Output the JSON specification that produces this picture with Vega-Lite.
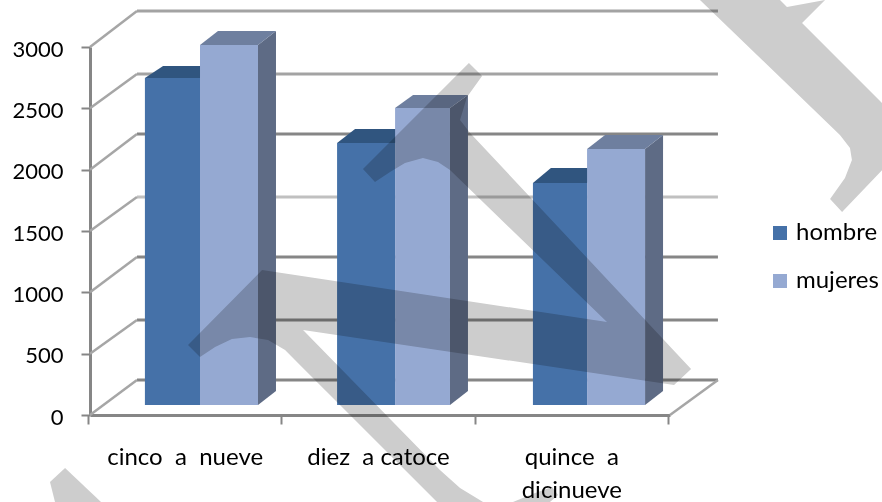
{"$schema":"https://vega.github.io/schema/vega-lite/v6.json","width":580,"height":368,"autosize":"none","padding":{"left":90,"top":47,"right":212,"bottom":87},"background":"white","config":{"view":{"stroke":null}},
"datasets":{
"barras":[{"grupo":"cinco a nueve","serie":"hombre","x0":0.284,"x1":0.569,"valor":2666},{"grupo":"cinco a nueve","serie":"mujeres","x0":0.569,"x1":0.869,"valor":2935},{"grupo":"diez a catoce","serie":"hombre","x0":1.278,"x1":1.578,"valor":2136},{"grupo":"diez a catoce","serie":"mujeres","x0":1.578,"x1":1.862,"valor":2421},{"grupo":"quince a dicinueve","serie":"hombre","x0":2.291,"x1":2.571,"valor":1810},{"grupo":"quince a dicinueve","serie":"mujeres","x0":2.571,"x1":2.871,"valor":2087}],
"lineas":[{"tono":"medio","x":0.243,"x2":3.248,"y":3293,"y2":3293},{"tono":"medio","x":0.243,"x2":3.248,"y":2780,"y2":2780},{"tono":"oscuro","x":0.243,"x2":3.248,"y":2291,"y2":2291},{"tono":"claro","x":0.243,"x2":3.248,"y":1777,"y2":1777},{"tono":"oscuro","x":0.243,"x2":3.248,"y":1288,"y2":1288},{"tono":"oscuro","x":0.243,"x2":3.248,"y":774,"y2":774},{"tono":"oscuro","x":0.243,"x2":3.248,"y":285,"y2":285},
{"tono":"oblicua","x":0,"x2":0.243,"y":3000,"y2":3293},{"tono":"oblicua","x":0,"x2":0.243,"y":2500,"y2":2780},{"tono":"oblicua","x":0,"x2":0.243,"y":2000,"y2":2291},{"tono":"oblicua","x":0,"x2":0.243,"y":1500,"y2":1777},{"tono":"oblicua","x":0,"x2":0.243,"y":1000,"y2":1288},{"tono":"oblicua","x":0,"x2":0.243,"y":500,"y2":774},{"tono":"oblicua","x":0,"x2":0.243,"y":0,"y2":285},{"tono":"oblicua","x":3,"x2":3.248,"y":0,"y2":285}],
"caras":[
{"cara":"h1t","tipo":"hsup","n":1,"x":0.284,"y":2747},{"cara":"h1t","tipo":"hsup","n":2,"x":0.569,"y":2747},{"cara":"h1t","tipo":"hsup","n":3,"x":0.662,"y":2845},{"cara":"h1t","tipo":"hsup","n":4,"x":0.378,"y":2845},
{"cara":"h2t","tipo":"hsup","n":1,"x":1.278,"y":2217},{"cara":"h2t","tipo":"hsup","n":2,"x":1.578,"y":2217},{"cara":"h2t","tipo":"hsup","n":3,"x":1.671,"y":2332},{"cara":"h2t","tipo":"hsup","n":4,"x":1.371,"y":2332},
{"cara":"h3t","tipo":"hsup","n":1,"x":2.291,"y":1891},{"cara":"h3t","tipo":"hsup","n":2,"x":2.571,"y":1891},{"cara":"h3t","tipo":"hsup","n":3,"x":2.664,"y":2014},{"cara":"h3t","tipo":"hsup","n":4,"x":2.384,"y":2014},
{"cara":"m1s","tipo":"mlat","n":1,"x":0.869,"y":82},{"cara":"m1s","tipo":"mlat","n":2,"x":0.962,"y":196},{"cara":"m1s","tipo":"mlat","n":3,"x":0.962,"y":3130},{"cara":"m1s","tipo":"mlat","n":4,"x":0.869,"y":3016},
{"cara":"m2s","tipo":"mlat","n":1,"x":1.862,"y":82},{"cara":"m2s","tipo":"mlat","n":2,"x":1.955,"y":196},{"cara":"m2s","tipo":"mlat","n":3,"x":1.955,"y":2609},{"cara":"m2s","tipo":"mlat","n":4,"x":1.862,"y":2503},
{"cara":"m3s","tipo":"mlat","n":1,"x":2.871,"y":82},{"cara":"m3s","tipo":"mlat","n":2,"x":2.964,"y":196},{"cara":"m3s","tipo":"mlat","n":3,"x":2.964,"y":2283},{"cara":"m3s","tipo":"mlat","n":4,"x":2.871,"y":2168},
{"cara":"m1t","tipo":"msup","n":1,"x":0.569,"y":3016},{"cara":"m1t","tipo":"msup","n":2,"x":0.869,"y":3016},{"cara":"m1t","tipo":"msup","n":3,"x":0.962,"y":3130},{"cara":"m1t","tipo":"msup","n":4,"x":0.662,"y":3130},
{"cara":"m2t","tipo":"msup","n":1,"x":1.578,"y":2503},{"cara":"m2t","tipo":"msup","n":2,"x":1.862,"y":2503},{"cara":"m2t","tipo":"msup","n":3,"x":1.955,"y":2609},{"cara":"m2t","tipo":"msup","n":4,"x":1.671,"y":2609},
{"cara":"m3t","tipo":"msup","n":1,"x":2.571,"y":2168},{"cara":"m3t","tipo":"msup","n":2,"x":2.871,"y":2168},{"cara":"m3t","tipo":"msup","n":3,"x":2.964,"y":2283},{"cara":"m3t","tipo":"msup","n":4,"x":2.664,"y":2283}],
"marca":[
{"p":"a","n":1,"x":3.155,"y":3383},{"p":"a","n":2,"x":3.569,"y":3383},{"p":"a","n":3,"x":3.605,"y":3326},{"p":"a","n":4,"x":3.802,"y":3383},{"p":"a","n":5,"x":3.683,"y":3196},{"p":"a","n":6,"x":4.097,"y":2543},{"p":"a","n":7,"x":4.097,"y":1997},{"p":"a","n":8,"x":3.89,"y":1655},{"p":"a","n":9,"x":3.828,"y":1761},{"p":"a","n":10,"x":3.905,"y":1932},{"p":"a","n":11,"x":3.941,"y":2079},{"p":"a","n":12,"x":3.931,"y":2177},{"p":"a","n":13,"x":3.879,"y":2283},
{"p":"b","n":1,"x":-0.129,"y":-432},{"p":"b","n":2,"x":-0.207,"y":-546},{"p":"b","n":3,"x":-0.181,"y":-709},{"p":"b","n":4,"x":0.057,"y":-709},
{"p":"c","n":1,"x":2.188,"y":-709},{"p":"c","n":2,"x":2.302,"y":-636},{"p":"c","n":3,"x":2.39,"y":-587},{"p":"c","n":4,"x":2.421,"y":-652},{"p":"c","n":5,"x":2.379,"y":-709},
{"p":"d","n":1,"x":1.96,"y":2870},{"p":"d","n":2,"x":2.028,"y":2764},{"p":"d","n":3,"x":1.95,"y":2592},{"p":"d","n":4,"x":1.914,"y":2405},{"p":"d","n":5,"x":1.966,"y":2299},{"p":"d","n":6,"x":3.109,"y":375},{"p":"d","n":7,"x":3.021,"y":245},{"p":"d","n":8,"x":1.102,"y":693},{"p":"d","n":9,"x":1.81,"y":-448},{"p":"d","n":10,"x":1.914,"y":-595},{"p":"d","n":11,"x":2.033,"y":-709},{"p":"d","n":12,"x":1.795,"y":-709},{"p":"d","n":13,"x":1.086,"y":408},{"p":"d","n":14,"x":1.009,"y":530},{"p":"d","n":15,"x":0.921,"y":611},{"p":"d","n":16,"x":0.828,"y":636},{"p":"d","n":17,"x":0.734,"y":620},{"p":"d","n":18,"x":0.647,"y":554},{"p":"d","n":19,"x":0.569,"y":473},{"p":"d","n":20,"x":0.507,"y":571},{"p":"d","n":21,"x":0.89,"y":1182},{"p":"d","n":22,"x":2.674,"y":758},{"p":"d","n":23,"x":1.862,"y":1997},{"p":"d","n":24,"x":1.8,"y":2062},{"p":"d","n":25,"x":1.722,"y":2095},{"p":"d","n":26,"x":1.629,"y":2054},{"p":"d","n":27,"x":1.552,"y":1981},{"p":"d","n":28,"x":1.474,"y":1899},{"p":"d","n":29,"x":1.412,"y":2005}]},
"layer":[
{"data":{"name":"lineas"},"transform":[{"filter":"datum.tono=='medio'"}],"mark":{"type":"rule","color":"#a3a3a3","strokeWidth":3},
"encoding":{"x":{"field":"x","type":"quantitative","scale":{"domain":[0,3],"nice":false,"zero":false},
"axis":{"title":null,"grid":false,"values":[0,0.5,1,1.5,2,2.5,3],"tickSize":9,"tickColor":"#868686","tickWidth":2,"tickOffset":-2,"tickOpacity":{"expr":"datum.value % 1 == 0 ? 1 : 0"},"domainColor":"#868686","domainWidth":3,"labelFont":"Lato","labelFontSize":24,"labelColor":"#000000","labelPadding":21,"labelOverlap":false,"labelBound":false,"labelFlush":false,"labelLineHeight":33,"labelExpr":"datum.value==0.5?'cinco\u00a0\u00a0a\u00a0\u00a0nueve':datum.value==1.5?'diez\u00a0\u00a0a catoce':datum.value==2.5?['quince\u00a0\u00a0a','dicinueve']:''"}},
"x2":{"field":"x2"},
"y":{"field":"y","type":"quantitative","scale":{"domain":[0,3000],"nice":false},
"axis":{"title":null,"grid":false,"values":[0,500,1000,1500,2000,2500,3000],"format":"d","tickSize":9,"tickColor":"#868686","tickWidth":2,"domainColor":"#868686","domainWidth":3,"labelFont":"Lato","labelFontSize":22,"labelColor":"#000000","labelPadding":18,"labelOffset":2}},
"y2":{"field":"y2"}}},
{"data":{"name":"lineas"},"transform":[{"filter":"datum.tono=='oscuro'"}],"mark":{"type":"rule","color":"#868686","strokeWidth":3},"encoding":{"x":{"field":"x","type":"quantitative"},"x2":{"field":"x2"},"y":{"field":"y","type":"quantitative"},"y2":{"field":"y2"}}},
{"data":{"name":"lineas"},"transform":[{"filter":"datum.tono=='claro'"}],"mark":{"type":"rule","color":"#c0c0c0","strokeWidth":3},"encoding":{"x":{"field":"x","type":"quantitative"},"x2":{"field":"x2"},"y":{"field":"y","type":"quantitative"},"y2":{"field":"y2"}}},
{"data":{"name":"lineas"},"transform":[{"filter":"datum.tono=='oblicua'"}],"mark":{"type":"rule","color":"#a6a6a6","strokeWidth":2.5},"encoding":{"x":{"field":"x","type":"quantitative"},"x2":{"field":"x2"},"y":{"field":"y","type":"quantitative"},"y2":{"field":"y2"}}},
{"data":{"name":"caras"},"transform":[{"filter":"datum.tipo=='hsup'"}],"mark":{"type":"line","fill":"#30557F","stroke":null},"encoding":{"x":{"field":"x","type":"quantitative"},"y":{"field":"y","type":"quantitative"},"detail":{"field":"cara"},"order":{"field":"n"}}},
{"data":{"name":"caras"},"transform":[{"filter":"datum.tipo=='mlat'"}],"mark":{"type":"line","fill":"#5E6B85","stroke":null},"encoding":{"x":{"field":"x","type":"quantitative"},"y":{"field":"y","type":"quantitative"},"detail":{"field":"cara"},"order":{"field":"n"}}},
{"data":{"name":"caras"},"transform":[{"filter":"datum.tipo=='msup'"}],"mark":{"type":"line","fill":"#6E7F9F","stroke":null},"encoding":{"x":{"field":"x","type":"quantitative"},"y":{"field":"y","type":"quantitative"},"detail":{"field":"cara"},"order":{"field":"n"}}},
{"data":{"name":"barras"},"mark":{"type":"rect","yOffset":-10,"y2Offset":-10},"encoding":{"x":{"field":"x0","type":"quantitative"},"x2":{"field":"x1"},"y":{"field":"valor","type":"quantitative"},"y2":{"datum":0},
"color":{"field":"serie","type":"nominal","scale":{"domain":["hombre","mujeres"],"range":["#4571A8","#95A9D2"]},
"legend":{"title":null,"orient":"none","legendX":678,"legendY":174,"symbolType":"square","symbolSize":196,"symbolStrokeWidth":0,"labelFont":"Lato","labelFontSize":24,"labelColor":"#000000","labelOffset":4,"rowPadding":24,"clipHeight":24}}}},
{"data":{"name":"marca"},"mark":{"type":"line","fill":"#CDCDCD","stroke":null,"blend":"multiply"},"encoding":{"x":{"field":"x","type":"quantitative"},"y":{"field":"y","type":"quantitative"},"detail":{"field":"p"},"order":{"field":"n"}}}
]}
